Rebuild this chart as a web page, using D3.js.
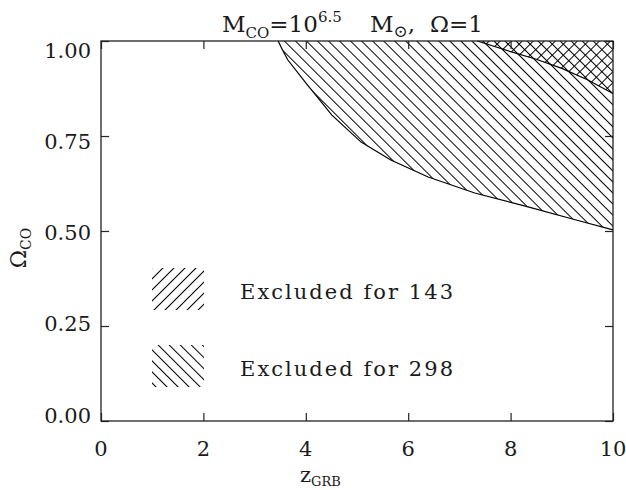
<!DOCTYPE html>
<html>
<head>
<meta charset="utf-8">
<script src="https://cdn.jsdelivr.net/npm/d3@7"></script>
<style>
  html, body { margin: 0; padding: 0; background: #fff; }
  text { font-family: "DejaVu Serif", serif; fill: #1a1a1a; }
</style>
</head>
<body>
<script>
// axis ticks
var zTicks = [0, 2, 4, 6, 8, 10];
var omegaTicks = [0, 0.25, 0.5, 0.75, 1];

// lower edge of the region excluded for 298
var z298 = [3.46, 3.55, 3.65, 4.0, 4.51, 5.08, 5.66, 6.39, 7.30, 8.36, 9.28, 10];
var omega298 = [1.0, 0.975, 0.95, 0.89, 0.805, 0.734, 0.687, 0.642, 0.600, 0.563, 0.529, 0.503];

// lower edge of the region excluded for 143
var z143 = [7.35, 8.0, 8.5, 9.0, 9.5, 10];
var omega143 = [1.0, 0.972, 0.952, 0.928, 0.898, 0.862];

var legendLabels = ['Excluded for 143', 'Excluded for 298'];

var width = 626, height = 490;
var margin = {top: 41, right: 13, bottom: 69, left: 101};

var x = d3.scaleLinear().domain([0, 10]).range([margin.left, width - margin.right]);
var y = d3.scaleLinear().domain([0, 1]).range([height - margin.bottom, margin.top]);
// tick labels sit a little inside the frame at both ends
var yLab = d3.scaleLinear().domain([0, 1]).range([415, 50]);

var svg = d3.select('body').append('svg')
    .attr('xmlns', 'http://www.w3.org/2000/svg')
    .attr('width', width)
    .attr('height', height);

var defs = svg.append('defs');
function hatch(id, angle) {
    var s = 7.8;
    var p = defs.append('pattern')
        .attr('id', id)
        .attr('patternUnits', 'userSpaceOnUse')
        .attr('width', s).attr('height', s)
        .attr('patternTransform', 'rotate(' + angle + ')');
    p.append('line')
        .attr('x1', 0.5).attr('y1', -1).attr('x2', 0.5).attr('y2', s + 1)
        .attr('stroke', '#000').attr('stroke-width', 1);
}
hatch('h298', -45);  // "\" lines
hatch('h143', 45);   // "/" lines

var pts298 = z298.map(function(z, i) { return [z, omega298[i]]; });
var pts143 = z143.map(function(z, i) { return [z, omega143[i]]; });

var area = d3.area()
    .x(function(d) { return x(d[0]); })
    .y0(function(d) { return y(d[1]); })
    .y1(function() { return y(1); });
var line = d3.line()
    .x(function(d) { return x(d[0]); })
    .y(function(d) { return y(d[1]); });

// hatched regions
svg.append('path').datum(pts298).attr('d', area).attr('fill', 'url(#h298)');
svg.append('path').datum(pts143).attr('d', area).attr('fill', 'url(#h143)');
svg.append('path').datum(pts298).attr('d', line)
    .attr('fill', 'none').attr('stroke', '#000').attr('stroke-width', 1.2);
svg.append('path').datum(pts143).attr('d', line)
    .attr('fill', 'none').attr('stroke', '#000').attr('stroke-width', 1.2);

// axes, ticks pointing inward on all four sides
function styleAxis(g) {
    g.select('.domain').remove();
    g.selectAll('.tick line').attr('stroke', '#222').attr('stroke-width', 1.2);
}
var plotH = y(0) - y(1), plotW = x(10) - x(0);

svg.append('g').attr('transform', 'translate(0,' + y(0) + ')')
    .call(d3.axisBottom(x).tickValues(zTicks).tickSizeInner(-8).tickSizeOuter(0).tickFormat(''))
    .call(styleAxis);
svg.append('g').attr('transform', 'translate(0,' + y(1) + ')')
    .call(d3.axisTop(x).tickValues(zTicks).tickSizeInner(-8).tickSizeOuter(0).tickFormat(''))
    .call(styleAxis);
svg.append('g').attr('transform', 'translate(' + x(0) + ',0)')
    .call(d3.axisLeft(y).tickValues(omegaTicks).tickSizeInner(-8).tickSizeOuter(0).tickFormat(''))
    .call(styleAxis);
svg.append('g').attr('transform', 'translate(' + x(10) + ',0)')
    .call(d3.axisRight(y).tickValues(omegaTicks).tickSizeInner(-8).tickSizeOuter(0).tickFormat(''))
    .call(styleAxis);

svg.append('g').selectAll('text').data(zTicks).enter().append('text')
    .attr('x', function(d) { return x(d); })
    .attr('y', 456)
    .attr('text-anchor', 'middle')
    .style('font-size', '21px')
    .text(d3.format('d'));

svg.append('g').selectAll('text').data(omegaTicks).enter().append('text')
    .attr('x', x(0) - 10)
    .attr('y', function(d) { return yLab(d); })
    .attr('dy', '0.36em')
    .attr('text-anchor', 'end')
    .style('font-size', '21px')
    .text(d3.format('.2f'));

svg.append('rect')
    .attr('x', x(0)).attr('y', y(1))
    .attr('width', plotW).attr('height', plotH)
    .attr('fill', 'none').attr('stroke', '#222').attr('stroke-width', 1.3);

// legend
var leg = svg.append('g');
['h143', 'h298'].forEach(function(id, i) {
    var top = 268 + i * 77;
    leg.append('rect')
        .attr('x', 152).attr('y', top).attr('width', 52).attr('height', 42)
        .attr('fill', 'url(#' + id + ')');
    leg.append('text')
        .attr('x', 240).attr('y', top + 31)
        .attr('textLength', 213).attr('lengthAdjust', 'spacing')
        .style('font-size', '21px')
        .text(legendLabels[i]);
});

// title
var title = svg.append('text').attr('x', 222).attr('y', 32).style('font-size', '23px');
title.append('tspan').text('M');
title.append('tspan').attr('dy', 6).style('font-size', '15px').text('CO');
title.append('tspan').attr('dy', -6).text('=10');
title.append('tspan').attr('dy', -10).style('font-size', '15px').text('6.5');
title.append('tspan').attr('dy', 10).attr('x', 370).text('M');
title.append('tspan').attr('dy', 5).style('font-size', '17px').text('\u2299');
title.append('tspan').attr('dy', -5).text(',');
title.append('tspan').attr('x', 430).text('\u03A9=1');

// axis titles
var xt = svg.append('text').attr('x', 300).attr('y', 482).style('font-size', '21px');
xt.append('tspan').text('z');
xt.append('tspan').attr('dy', 4).style('font-size', '13px').text('GRB');

var yt = svg.append('text')
    .attr('transform', 'translate(26,248) rotate(-90)')
    .attr('text-anchor', 'middle')
    .style('font-size', '22px');
yt.append('tspan').text('\u03A9');
yt.append('tspan').attr('dy', 5).style('font-size', '14px').text('CO');
</script>
</body>
</html>
